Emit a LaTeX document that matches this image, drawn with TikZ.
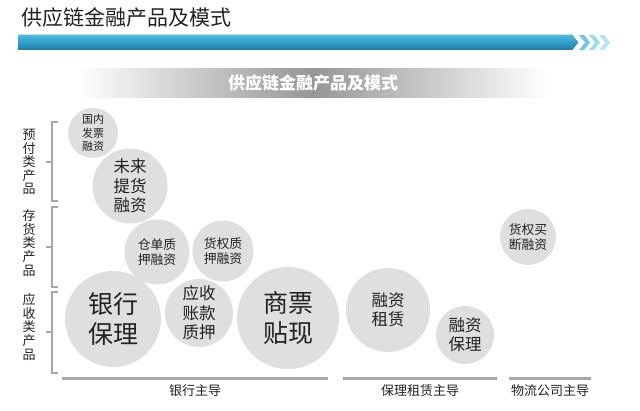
\documentclass[tikz,border=0pt]{standalone}
\usepackage{fontspec}
\usepackage{xcolor}
\usepackage{tikz}
\usetikzlibrary{positioning,calc}
\newfontfamily\cjk{Noto Sans CJK SC}
\definecolor{bubblegray}{RGB}{223,223,223}
\definecolor{textdark}{RGB}{34,34,34}
\definecolor{barlight}{RGB}{74,188,224}
\definecolor{bardark}{RGB}{26,124,166}
\definecolor{axisgray}{RGB}{168,168,168}
\definecolor{bannergray}{RGB}{150,150,150}

\begin{document}
\begin{tikzpicture}[
    x=1pt, y=-1pt,
    font=\cjk, text=textdark,
    bubble/.style={circle, fill=bubblegray, inner sep=0pt, align=center},
    txtxs/.style={font=\cjk\fontsize{11}{13.5}\selectfont},
    txts/.style={font=\cjk\fontsize{12.8}{15}\selectfont},
    txtm/.style={font=\cjk\fontsize{16.5}{19.5}\selectfont},
    txtl/.style={font=\cjk\fontsize{25}{29.5}\selectfont},
    catlabel/.style={align=center, inner sep=0pt, font=\cjk\fontsize{13}{13.6}\selectfont},
    catbrace/.style={draw=axisgray, line width=1.3pt},
    axisline/.style={draw=axisgray, line width=3pt},
    axislabel/.style={inner sep=0pt, font=\cjk\fontsize{13}{15}\selectfont},
    banner/.style={minimum width=470, minimum height=29, inner sep=0pt,
        left color=white, right color=white, middle color=bannergray,
        text=white, font=\cjk\bfseries\fontsize{17}{19}\selectfont}
]
\useasboundingbox (0,0) rectangle (640,411);

% header: title, blue bar, banner
\node[anchor=west, inner sep=0pt, font=\cjk\fontsize{21}{24}\selectfont] (title) at (21,18) {供应链金融产品及模式};
\fill[top color=barlight, bottom color=bardark] (18,35) -- (572,35) -- (578,42.5) -- (572,50) -- (18,50) -- cycle;
\fill[barlight!80] (579,35) -- (584,35) -- (590,42.5) -- (584,50) -- (579,50) -- (585,42.5) -- cycle;
\fill[barlight!55] (589,35) -- (594,35) -- (600,42.5) -- (594,50) -- (589,50) -- (595,42.5) -- cycle;
\fill[barlight!40] (599,35) -- (604,35) -- (610,42.5) -- (604,50) -- (599,50) -- (605,42.5) -- cycle;
\node[banner] (banner) at (313,83) {供应链金融产品及模式};

% left axis: product categories
\node[catlabel] (prepay) at (29,162) {预\\付\\类\\产\\品};
\node[catlabel] (stock) at (29,243) {存\\货\\类\\产\\品};
\node[catlabel] (receive) at (29,327) {应\\收\\类\\产\\品};
\draw[catbrace] (58,122) -- (52,122) -- (52,201) -- (58,201) (46,162) -- (52,162);
\draw[catbrace] (58,207) -- (52,207) -- (52,287) -- (58,287) (46,247) -- (52,247);
\draw[catbrace] (58,292) -- (52,292) -- (52,373) -- (58,373) (46,332) -- (52,332);

% bubbles
\node[bubble, txtxs, minimum size=50] (invoice) at (93,133) {国内\\发票\\融资};
\node[bubble, txtm, minimum size=75] (pickup) at (130,186) {未来\\提货\\融资};
\node[bubble, txts, minimum size=65] (warrant) at (157,252) {仓单质\\押融资};
\node[bubble, txts, minimum size=61] (pledge) at (223,251) {货权质\\押融资};
\node[bubble, txtl, minimum size=96] (bankfact) at (113,319) {银行\\保理};
\node[bubble, txtm, minimum size=68] (receivable) at (199,313) {应收\\账款\\质押};
\node[bubble, txtl, minimum size=102] (bill) at (288,318) {商票\\贴现};
\node[bubble, txtm, minimum size=84] (leasing) at (388,310) {融资\\租赁};
\node[bubble, txtm, minimum size=58] (factoring) at (465,335) {融资\\保理};
\node[bubble, txts, minimum size=56] (buyout) at (528,237) {货权买\\断融资};

% bottom axis: who leads
\draw[axisline] (62,379) -- (328,379);
\draw[axisline] (343,379) -- (497,379);
\draw[axisline] (509,379) -- (591,379);
\node[axislabel] (bank) at (195,391) {银行主导};
\node[axislabel] (lease) at (420,391) {保理租赁主导};
\node[axislabel] (logistics) at (550,391) {物流公司主导};
\end{tikzpicture}
\end{document}
